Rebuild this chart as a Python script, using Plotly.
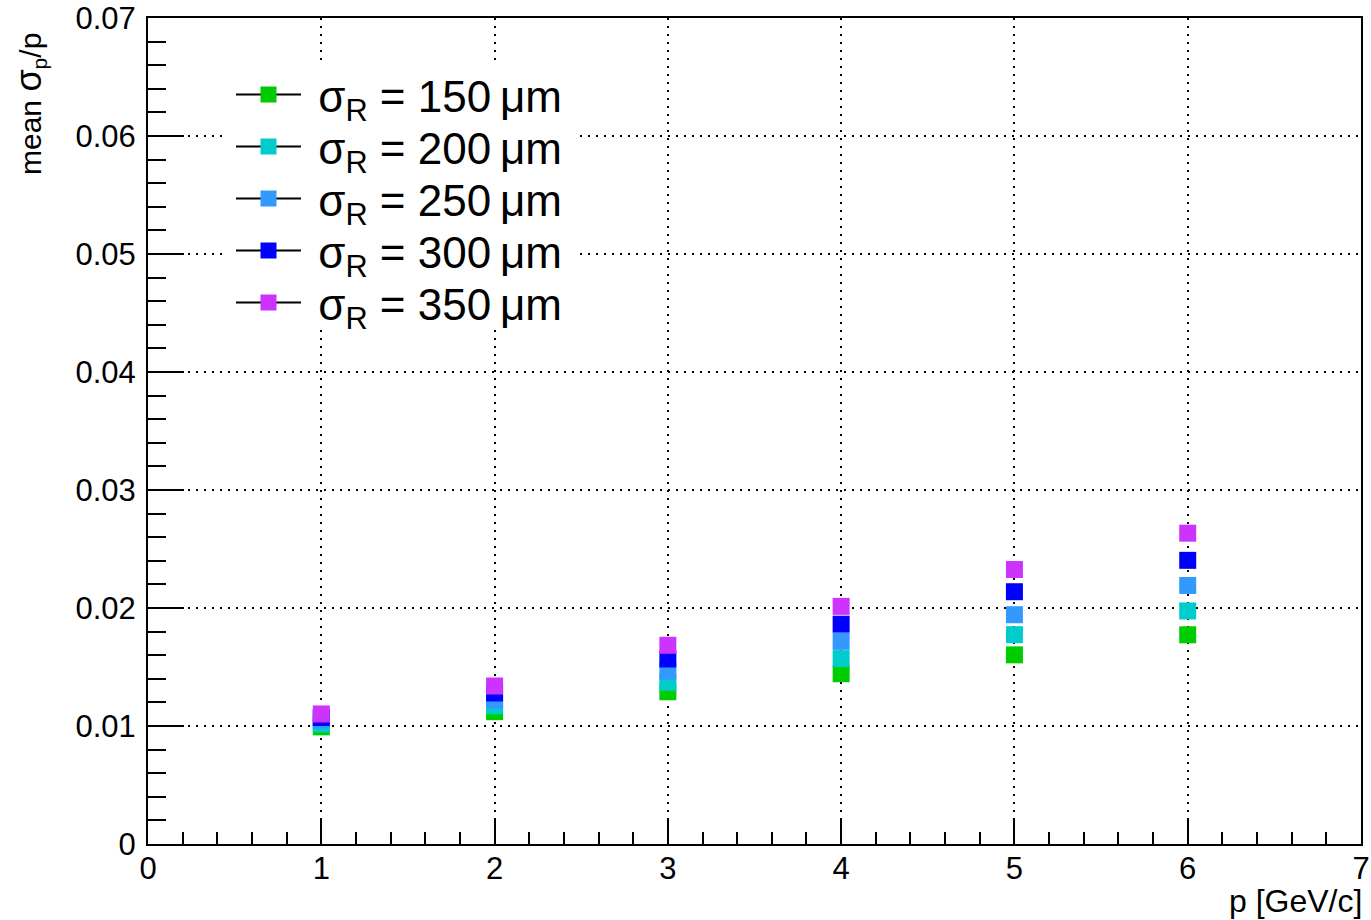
import plotly.graph_objects as go

p_values = [1, 2, 3, 4, 5, 6]
labels = ["σ<sub>R</sub> = 150\u2009μm", "σ<sub>R</sub> = 200\u2009μm", "σ<sub>R</sub> = 250\u2009μm",
          "σ<sub>R</sub> = 300\u2009μm", "σ<sub>R</sub> = 350\u2009μm"]
colors = ["#00CC00", "#00CCCC", "#3399FF", "#0000FF", "#CC33FF"]
res150 = [0.00993, 0.01121, 0.01290, 0.01443, 0.01603, 0.01773]
res200 = [0.01018, 0.01172, 0.01370, 0.01571, 0.01774, 0.01975]
res250 = [0.01050, 0.01220, 0.01466, 0.01717, 0.01943, 0.02191]
res300 = [0.01072, 0.01280, 0.01568, 0.01863, 0.02138, 0.02404]
res350 = [0.01102, 0.01339, 0.01684, 0.02014, 0.02326, 0.02634]
series = [res150, res200, res250, res300, res350]

x_ticks = [0, 1, 2, 3, 4, 5, 6, 7]
y_ticks = [0, 0.01, 0.02, 0.03, 0.04, 0.05, 0.06, 0.07]
y_tick_text = ["0", "0.01", "0.02", "0.03", "0.04", "0.05", "0.06", "0.07"]

FONT = "Liberation Sans, Arial, Helvetica, sans-serif"

W, H = 1371, 920
PLOT_TOP, PLOT_BOTTOM = 18, 844
PLOT_LEFT, PLOT_RIGHT = 148, 1361
plot_h = PLOT_BOTTOM - PLOT_TOP
plot_w = PLOT_RIGHT - PLOT_LEFT

def py(ypx):
    return (PLOT_BOTTOM - ypx) / plot_h

def px(xpx):
    return (xpx - PLOT_LEFT) / plot_w

legend_names = ["legend", "legend2", "legend3", "legend4", "legend5"]
legend_rows_px = [95, 147, 199, 251, 303]

fig = go.Figure()
for vals, col in zip(series, colors):
    fig.add_trace(go.Scatter(
        x=p_values, y=vals, mode="markers",
        marker=dict(symbol="square", size=17, color=col, line=dict(width=0)),
        showlegend=False, cliponaxis=False,
    ))
for col, lab, lg in zip(colors, labels, legend_names):
    fig.add_trace(go.Scatter(
        x=[None], y=[None], mode="lines+markers", name="\u00a0" + lab,
        line=dict(color="black", width=2),
        marker=dict(symbol="square", size=17, color=col, line=dict(width=0)),
        legend=lg,
    ))

axis_common = dict(
    showline=True, linecolor="black", linewidth=2, mirror=True,
    ticks="inside", tickcolor="black", tickwidth=2,
    showgrid=True, gridcolor="black", gridwidth=2, griddash="2px,6px",
    zeroline=False, automargin=False, ticklabeloverflow="allow",
    tickfont=dict(family=FONT, size=31, color="black"),
)

fig.update_xaxes(
    range=[0, 7], tickvals=x_ticks, ticktext=[str(v) for v in x_ticks], ticklen=25,
    ticklabelstandoff=-4,
    minor=dict(dtick=0.2, ticklen=12, tickwidth=2, tickcolor="black", ticks="inside", showgrid=False),
    **axis_common,
)
fig.update_yaxes(
    range=[0, 0.07], tickvals=y_ticks, ticktext=y_tick_text, ticklen=36,
    ticklabelstandoff=4,
    minor=dict(dtick=0.002, ticklen=18, tickwidth=2, tickcolor="black", ticks="inside", showgrid=False),
    **axis_common,
)

legend_style = dict(
    xanchor="left", yanchor="middle", bgcolor="rgba(0,0,0,0)", borderwidth=0, itemwidth=65,
    font=dict(family=FONT, size=44, color="black"),
)
layout_legends = {}
for lg, rowpx in zip(legend_names, legend_rows_px):
    layout_legends[lg] = dict(x=px(231), y=py(rowpx), **legend_style)

fig.update_layout(
    width=W, height=H,
    margin=dict(l=PLOT_LEFT, r=W - PLOT_RIGHT, t=PLOT_TOP, b=H - PLOT_BOTTOM, autoexpand=False),
    plot_bgcolor="white", paper_bgcolor="white",
    font=dict(family=FONT, color="black"),
    shapes=[
        # white legend background (hides the grid behind the legend block)
        dict(type="rect", xref="paper", yref="paper", layer="above",
             x0=px(222), x1=px(575), y0=py(330), y1=py(65),
             fillcolor="white", line=dict(width=0)),
    ],
    annotations=[
        dict(text="p [GeV/c]", xref="paper", yref="paper", x=px(1364), y=py(901),
             xanchor="right", yanchor="middle", showarrow=False,
             font=dict(family=FONT, size=32, color="black")),
        dict(text="mean\u00a0<span style=\"font-size:36px\">σ</span><sub>p</sub>/p",
             xref="paper", yref="paper", x=px(30), y=py(104),
             xanchor="center", yanchor="middle", textangle=-90, showarrow=False,
             font=dict(family=FONT, size=30, color="black")),
    ],
    **layout_legends,
)

fig.write_html("out.html", post_script="document.body.style.margin='0';",
               config={"displayModeBar": False})
